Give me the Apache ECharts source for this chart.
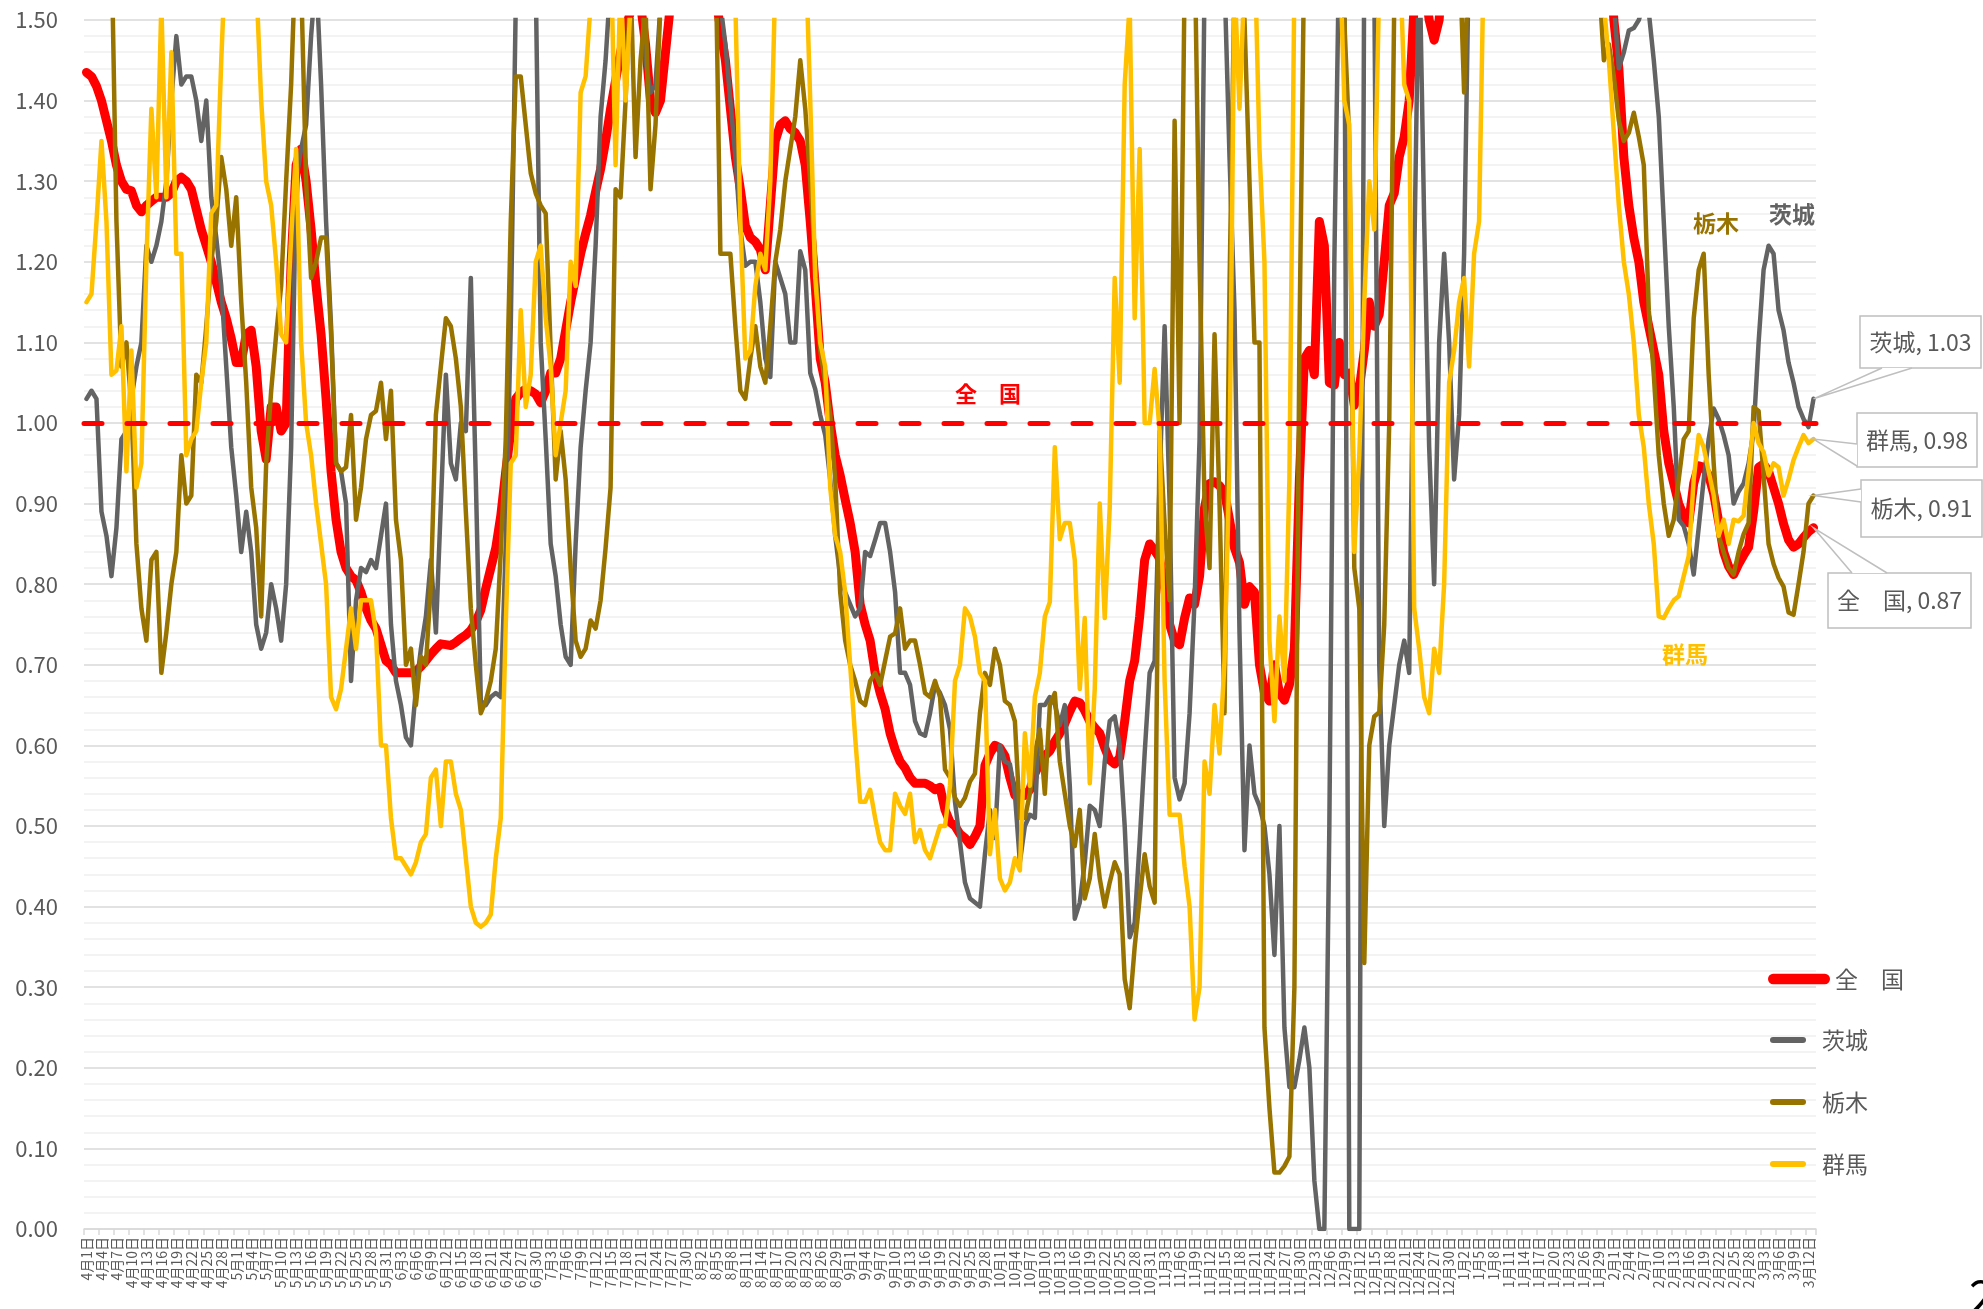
<!DOCTYPE html>
<html>
<head>
<meta charset="utf-8">
<title>実効再生産数</title>
<script src="https://cdn.jsdelivr.net/npm/echarts/dist/echarts.min.js"></script>
<style>
  html, body { margin: 0; padding: 0; background: #fff; }
  #chart { width: 1983px; height: 1309px; }
</style>
</head>
<body>
<div id="chart"></div>
<script>
// 2020/4/1 ～ 2021/3/13 の日次データ
const startDay = Date.UTC(2020, 3, 1);

const zenkoku = [
  1.435, 1.43, 1.418, 1.40, 1.375, 1.35, 1.32, 1.30, 1.29, 1.288,
  1.27, 1.262, 1.27, 1.275, 1.28, 1.28, 1.28, 1.285, 1.30, 1.305,
  1.30, 1.29, 1.265, 1.24, 1.22, 1.20, 1.175, 1.15, 1.13, 1.105,
  1.075, 1.075, 1.11, 1.115, 1.07, 0.99, 0.955, 1.02, 1.02, 0.99,
  1.00, 1.20, 1.32, 1.34, 1.30, 1.24, 1.17, 1.11, 1.03, 0.94,
  0.88, 0.84, 0.82, 0.81, 0.805, 0.79, 0.77, 0.755, 0.745, 0.725,
  0.705, 0.70, 0.69, 0.69, 0.69, 0.69, 0.692, 0.698, 0.705, 0.713,
  0.72, 0.726, 0.725, 0.724, 0.728, 0.733, 0.737, 0.743, 0.753, 0.768,
  0.795, 0.82, 0.845, 0.885, 0.94, 0.99, 1.03, 1.038, 1.042, 1.04,
  1.036, 1.025, 1.04, 1.062, 1.062, 1.08, 1.115, 1.15, 1.18, 1.21,
  1.235, 1.258, 1.287, 1.315, 1.35, 1.39, 1.425, 1.46, 1.49, 1.51,
  1.53, 1.52, 1.47, 1.40, 1.385, 1.40, 1.46, 1.52, 1.56, 1.6,
  1.6, 1.6, 1.6, 1.6, 1.6, 1.58, 1.53, 1.49, 1.45, 1.39,
  1.33, 1.29, 1.245, 1.23, 1.225, 1.215, 1.19, 1.27, 1.35, 1.37,
  1.375, 1.365, 1.36, 1.35, 1.32, 1.25, 1.17, 1.08, 1.05, 1.00,
  0.96, 0.935, 0.905, 0.876, 0.84, 0.775, 0.75, 0.73, 0.69, 0.665,
  0.645, 0.615, 0.595, 0.58, 0.572, 0.56, 0.553, 0.553, 0.553, 0.55,
  0.545, 0.548, 0.52, 0.505, 0.50, 0.49, 0.485, 0.477, 0.487, 0.50,
  0.575, 0.59, 0.60, 0.597, 0.587, 0.56, 0.538, 0.54, 0.538, 0.545,
  0.565, 0.578, 0.587, 0.593, 0.605, 0.615, 0.627, 0.642, 0.655, 0.653,
  0.643, 0.63, 0.622, 0.615, 0.597, 0.582, 0.577, 0.585, 0.63, 0.68,
  0.705, 0.76, 0.83, 0.85, 0.842, 0.832, 0.795, 0.75, 0.73, 0.725,
  0.758, 0.783, 0.775, 0.81, 0.895, 0.925, 0.927, 0.922, 0.914, 0.88,
  0.845, 0.827, 0.775, 0.797, 0.79, 0.70, 0.665, 0.655, 0.70, 0.665,
  0.656, 0.675, 0.72, 0.93, 1.08, 1.09, 1.06, 1.25, 1.22, 1.05,
  1.047, 1.10, 1.06, 1.062, 1.022, 1.042, 1.09, 1.15, 1.12, 1.135,
  1.20, 1.27, 1.285, 1.33, 1.355, 1.40, 1.52, 1.58, 1.55, 1.50,
  1.475, 1.50, 1.6, 1.6, 1.6, 1.6, 1.6, 1.6, 1.6, 1.6,
  1.6, 1.6, 1.6, 1.6, 1.6, 1.6, 1.6, 1.6, 1.6, 1.6,
  1.6, 1.6, 1.6, 1.6, 1.6, 1.6, 1.6, 1.6, 1.6, 1.6,
  1.6, 1.6, 1.6, 1.6, 1.6, 1.6, 1.50, 1.44, 1.33, 1.27,
  1.23, 1.20, 1.15, 1.12, 1.09, 1.06, 0.99, 0.95, 0.925, 0.90,
  0.885, 0.876, 0.925, 0.947, 0.945, 0.935, 0.912, 0.878, 0.84, 0.822,
  0.812, 0.825, 0.836, 0.846, 0.89, 0.945, 0.949, 0.94, 0.92, 0.90,
  0.875, 0.855, 0.846, 0.85, 0.858, 0.865, 0.87
];

const ibaraki = [
  1.03, 1.04, 1.03, 0.89, 0.86, 0.81, 0.87, 0.98, 0.99, 1.03,
  1.07, 1.10, 1.22, 1.20, 1.22, 1.25, 1.30, 1.40, 1.48, 1.42,
  1.43, 1.43, 1.40, 1.35, 1.40, 1.28, 1.23, 1.17, 1.07, 0.97,
  0.91, 0.84, 0.89, 0.84, 0.75, 0.72, 0.74, 0.80, 0.77, 0.73,
  0.80, 0.97, 1.30, 1.34, 1.37, 1.48, 1.56, 1.42, 1.25, 1.12,
  0.95, 0.94, 0.90, 0.68, 0.78, 0.82, 0.815, 0.83, 0.82, 0.86,
  0.90, 0.75, 0.68, 0.65, 0.61, 0.60, 0.67, 0.72, 0.76, 0.83,
  0.74, 0.90, 1.06, 0.95, 0.93, 1.00, 0.99, 1.18, 0.93, 0.655,
  0.65, 0.66, 0.665, 0.66, 0.85, 1.12, 1.52, 1.6, 1.6, 1.6,
  1.55, 1.10, 0.98, 0.85, 0.81, 0.75, 0.71, 0.70, 0.85, 0.97,
  1.04, 1.10, 1.22, 1.38, 1.45, 1.55, 1.6, 1.6, 1.6, 1.6,
  1.6, 1.55, 1.45, 1.41, 1.42, 1.52, 1.6, 1.6, 1.6, 1.6,
  1.6, 1.6, 1.6, 1.6, 1.6, 1.6, 1.6, 1.52, 1.47, 1.40,
  1.33, 1.24, 1.195, 1.20, 1.20, 1.15, 1.08, 1.057, 1.20, 1.18,
  1.16, 1.10, 1.10, 1.213, 1.19, 1.062, 1.042, 1.01, 0.985, 0.93,
  0.86, 0.81, 0.79, 0.775, 0.76, 0.77, 0.84, 0.835, 0.855, 0.876,
  0.876, 0.84, 0.79, 0.69, 0.69, 0.675, 0.63, 0.615, 0.612, 0.64,
  0.675, 0.665, 0.65, 0.62, 0.53, 0.48, 0.43, 0.41, 0.405, 0.40,
  0.465, 0.52, 0.485, 0.60, 0.58, 0.577, 0.54, 0.455, 0.50, 0.514,
  0.51, 0.65, 0.65, 0.66, 0.651, 0.625, 0.65, 0.55, 0.385, 0.405,
  0.455, 0.525, 0.52, 0.50, 0.58, 0.63, 0.636, 0.60, 0.50, 0.362,
  0.38, 0.48, 0.59, 0.69, 0.705, 0.93, 1.12, 0.90, 0.56, 0.533,
  0.553, 0.64, 0.78, 0.98, 1.55, 1.6, 1.6, 1.6, 1.55, 1.33,
  1.14, 0.74, 0.47, 0.60, 0.54, 0.525, 0.50, 0.44, 0.34, 0.50,
  0.25, 0.176, 0.176, 0.21, 0.25, 0.20, 0.06, 0, 0, 0.50,
  1.20, 1.6, 1.6, 0, 0, 0, 1.6, 1.6, 1.55, 0.70,
  0.50, 0.60, 0.65, 0.70, 0.73, 0.69, 1.20, 1.6, 1.25, 0.97,
  0.80, 1.10, 1.21, 1.10, 0.93, 1.01, 1.21, 1.6, 1.6, 1.6,
  1.6, 1.6, 1.6, 1.6, 1.6, 1.6, 1.6, 1.6, 1.6, 1.6,
  1.6, 1.6, 1.6, 1.6, 1.6, 1.6, 1.6, 1.6, 1.6, 1.6,
  1.6, 1.6, 1.6, 1.6, 1.6, 1.6, 1.52, 1.44, 1.46, 1.487,
  1.49, 1.50, 1.52, 1.51, 1.45, 1.38, 1.25, 1.12, 1.02, 0.88,
  0.872, 0.85, 0.812, 0.87, 0.93, 0.98, 1.018, 1.005, 0.985, 0.96,
  0.90, 0.915, 0.925, 0.95, 0.99, 1.10, 1.19, 1.22, 1.21, 1.14,
  1.115, 1.075, 1.05, 1.02, 1.005, 0.995, 1.03
];

const tochigi = [
  1.6, 1.6, 1.6, 1.6, 1.6, 1.6, 1.25, 1.07, 1.10, 1.02,
  0.85, 0.77, 0.73, 0.83, 0.84, 0.69, 0.74, 0.80, 0.84, 0.96,
  0.90, 0.91, 1.06, 1.05, 1.12, 1.20, 1.25, 1.33, 1.29, 1.22,
  1.28, 1.15, 1.05, 0.92, 0.87, 0.76, 0.95, 1.04, 1.11, 1.17,
  1.30, 1.42, 1.6, 1.55, 1.30, 1.18, 1.20, 1.23, 1.23, 1.11,
  0.95, 0.94, 0.945, 1.01, 0.88, 0.92, 0.98, 1.01, 1.015, 1.05,
  0.98, 1.04, 0.88, 0.83, 0.70, 0.72, 0.65, 0.71, 0.70, 0.80,
  1.01, 1.07, 1.13, 1.12, 1.08, 1.02, 0.89, 0.77, 0.70, 0.64,
  0.655, 0.68, 0.72, 0.84, 0.98, 1.25, 1.43, 1.43, 1.37, 1.31,
  1.285, 1.27, 1.26, 1.09, 0.93, 0.99, 0.93, 0.82, 0.73, 0.71,
  0.72, 0.755, 0.745, 0.78, 0.845, 0.92, 1.29, 1.28, 1.40, 1.55,
  1.33, 1.45, 1.52, 1.29, 1.37, 1.52, 1.6, 1.6, 1.6, 1.6,
  1.6, 1.6, 1.6, 1.6, 1.6, 1.6, 1.6, 1.21, 1.21, 1.21,
  1.12, 1.04, 1.03, 1.08, 1.12, 1.07, 1.05, 1.12, 1.20, 1.24,
  1.30, 1.34, 1.38, 1.45, 1.39, 1.30, 1.20, 1.09, 1.05, 1.01,
  0.93, 0.79, 0.73, 0.70, 0.68, 0.655, 0.65, 0.68, 0.69, 0.675,
  0.705, 0.735, 0.739, 0.77, 0.72, 0.73, 0.73, 0.70, 0.665, 0.66,
  0.68, 0.66, 0.57, 0.56, 0.535, 0.525, 0.535, 0.555, 0.565, 0.64,
  0.69, 0.675, 0.72, 0.70, 0.655, 0.65, 0.63, 0.51, 0.51, 0.54,
  0.59, 0.62, 0.54, 0.65, 0.665, 0.58, 0.54, 0.50, 0.475, 0.52,
  0.41, 0.435, 0.49, 0.435, 0.40, 0.43, 0.455, 0.44, 0.31, 0.274,
  0.35, 0.41, 0.465, 0.425, 0.405, 0.99, 0.875, 0.78, 1.375, 1.00,
  1.55, 1.6, 1.6, 1.20, 0.90, 0.82, 1.11, 0.90, 0.64, 1.17,
  1.55, 1.6, 1.50, 1.30, 1.10, 1.10, 0.25, 0.15, 0.07, 0.07,
  0.078, 0.09, 0.30, 1.10, 1.6, 1.6, 1.6, 1.6, 1.6, 1.6,
  1.6, 1.6, 1.50, 1.35, 0.82, 0.77, 0.33, 0.60, 0.636, 0.641,
  0.75, 1.00, 1.52, 1.6, 1.6, 1.6, 1.6, 1.6, 1.6, 1.6,
  1.6, 1.6, 1.6, 1.6, 1.6, 1.6, 1.41, 1.6, 1.6, 1.6,
  1.6, 1.6, 1.6, 1.6, 1.6, 1.6, 1.6, 1.6, 1.6, 1.6,
  1.6, 1.6, 1.6, 1.6, 1.6, 1.6, 1.6, 1.6, 1.6, 1.6,
  1.6, 1.6, 1.6, 1.55, 1.45, 1.47, 1.43, 1.375, 1.35, 1.36,
  1.385, 1.355, 1.32, 1.14, 1.06, 0.96, 0.90, 0.86, 0.88, 0.93,
  0.98, 0.99, 1.13, 1.19, 1.21, 1.06, 0.95, 0.86, 0.84, 0.82,
  0.812, 0.84, 0.862, 0.876, 1.02, 1.015, 0.935, 0.85, 0.825, 0.808,
  0.797, 0.765, 0.762, 0.80, 0.84, 0.90, 0.91
];

const gunma = [
  1.15, 1.16, 1.25, 1.35, 1.25, 1.06, 1.065, 1.12, 0.94, 1.09,
  0.92, 0.95, 1.20, 1.39, 1.28, 1.52, 1.28, 1.46, 1.21, 1.21,
  0.96, 0.98, 0.99, 1.05, 1.10, 1.26, 1.27, 1.45, 1.6, 1.6,
  1.6, 1.6, 1.6, 1.6, 1.55, 1.40, 1.30, 1.27, 1.20, 1.11,
  1.10, 1.23, 1.34, 1.10, 1.00, 0.96, 0.90, 0.85, 0.80, 0.66,
  0.645, 0.67, 0.72, 0.77, 0.72, 0.78, 0.78, 0.78, 0.74, 0.60,
  0.60, 0.51, 0.46, 0.46, 0.45, 0.44, 0.455, 0.48, 0.49, 0.56,
  0.57, 0.50, 0.58, 0.58, 0.54, 0.52, 0.46, 0.40, 0.38, 0.375,
  0.38, 0.39, 0.46, 0.51, 0.75, 0.95, 0.96, 1.14, 1.02, 1.06,
  1.20, 1.22, 1.13, 1.07, 0.96, 1.00, 1.04, 1.20, 1.17, 1.41,
  1.43, 1.52, 1.6, 1.6, 1.6, 1.6, 1.32, 1.55, 1.40, 1.52,
  1.6, 1.6, 1.6, 1.6, 1.6, 1.6, 1.6, 1.6, 1.6, 1.6,
  1.6, 1.6, 1.6, 1.6, 1.6, 1.6, 1.6, 1.6, 1.6, 1.6,
  1.52, 1.25, 1.08, 1.09, 1.17, 1.21, 1.19, 1.30, 1.55, 1.6,
  1.6, 1.6, 1.6, 1.6, 1.6, 1.40, 1.18, 1.10, 1.07, 0.92,
  0.86, 0.84, 0.79, 0.70, 0.61, 0.53, 0.53, 0.545, 0.51, 0.48,
  0.47, 0.47, 0.54, 0.525, 0.515, 0.54, 0.48, 0.495, 0.47, 0.46,
  0.48, 0.50, 0.50, 0.55, 0.68, 0.70, 0.77, 0.76, 0.735, 0.69,
  0.68, 0.465, 0.52, 0.435, 0.42, 0.43, 0.46, 0.445, 0.615, 0.55,
  0.66, 0.69, 0.76, 0.778, 0.97, 0.856, 0.876, 0.876, 0.83, 0.67,
  0.758, 0.553, 0.67, 0.90, 0.758, 0.895, 1.18, 1.05, 1.42, 1.52,
  1.13, 1.34, 1.00, 1.00, 1.067, 0.99, 0.68, 0.514, 0.514, 0.514,
  0.45, 0.40, 0.26, 0.30, 0.58, 0.54, 0.65, 0.59, 0.705, 0.95,
  1.55, 1.39, 1.55, 1.55, 1.6, 1.34, 1.20, 0.73, 0.63, 0.76,
  0.68, 0.93, 1.55, 1.6, 1.6, 1.6, 1.6, 1.6, 1.6, 1.6,
  1.6, 1.6, 1.40, 1.37, 0.84, 0.96, 1.15, 1.30, 1.24, 1.55,
  1.6, 1.6, 1.6, 1.6, 1.42, 1.40, 0.77, 0.72, 0.66, 0.64,
  0.72, 0.69, 0.80, 1.05, 1.09, 1.15, 1.18, 1.07, 1.21, 1.25,
  1.6, 1.6, 1.6, 1.6, 1.6, 1.6, 1.6, 1.6, 1.6, 1.6,
  1.6, 1.6, 1.6, 1.6, 1.6, 1.6, 1.6, 1.6, 1.6, 1.6,
  1.6, 1.6, 1.6, 1.6, 1.52, 1.45, 1.36, 1.27, 1.20, 1.16,
  1.10, 1.01, 0.97, 0.90, 0.85, 0.76, 0.758, 0.77, 0.78, 0.785,
  0.81, 0.835, 0.93, 0.985, 0.97, 0.94, 0.91, 0.86, 0.88, 0.85,
  0.88, 0.878, 0.885, 0.94, 1.00, 0.975, 0.964, 0.935, 0.95, 0.945,
  0.91, 0.93, 0.954, 0.97, 0.985, 0.975, 0.98
];

const seriesNames = ['全　国', '茨城', '栃木', '群馬'];
const seriesData = [zenkoku, ibaraki, tochigi, gunma];
const referenceLevel = 1.0;

// 日付ラベル（4月1日 ...）
const dateLabels = [];
for (let i = 0; i < zenkoku.length; i++) {
  const d = new Date(startDay + i * 86400000);
  dateLabels.push((d.getUTCMonth() + 1) + '月' + d.getUTCDate() + '日');
}
seriesData.forEach(function (arr, k) {
  if (arr.length !== dateLabels.length) {
    throw new Error(seriesNames[k] + ' length ' + arr.length + ' != ' + dateLabels.length);
  }
});

const FONT = '"Noto Sans CJK JP", "Noto Sans", sans-serif';
const colors = ['#FF0000', '#636363', '#997300', '#FFC000'];
const widths = [9, 4.5, 4.5, 4.5];
// 凡例の線（両端が丸い）
const capsule = 'path://M0,5 A5,5 0 0 1 5,0 L55,0 A5,5 0 0 1 55,10 L5,10 A5,5 0 0 1 0,5 Z';

const chart = echarts.init(document.getElementById('chart'));

const series = seriesData.map(function (arr, k) {
  const s = {
    name: seriesNames[k],
    type: 'line',
    data: arr,
    symbol: 'none',
    showSymbol: false,
    clip: true,
    silent: true,
    color: colors[k],
    itemStyle: { color: colors[k] },
    lineStyle: { color: colors[k], width: widths[k], cap: 'round', join: 'round' },
    emphasis: { disabled: true }
  };
  if (k === 0) {
    s.markLine = {
      silent: true,
      symbol: 'none',
      z: 10,
      data: [{ yAxis: referenceLevel }],
      lineStyle: { color: '#FF0000', width: 5, type: [18, 25], cap: 'round' },
      label: {
        show: true,
        position: 'insideMiddleTop',
        formatter: '全　国',
        color: '#FF0000',
        fontWeight: 'bold',
        fontSize: 22,
        fontFamily: FONT,
        distance: 18,
        padding: [0, 0, 0, 76]
      },
      emphasis: { disabled: true }
    };
  }
  return s;
});

const legendText = { color: '#595959', fontSize: 23, fontFamily: FONT, lineHeight: 28 };

const option = {
  animation: false,
  backgroundColor: '#ffffff',
  textStyle: { fontFamily: FONT },
  grid: { left: 84, right: 167, top: 20, bottom: 80 },
  legend: [
    {
      orient: 'vertical',
      left: 1768,
      top: 965,
      padding: 0,
      itemWidth: 62,
      itemHeight: 11,
      icon: capsule,
      data: [seriesNames[0]],
      textStyle: legendText
    },
    {
      orient: 'vertical',
      left: 1770,
      top: 1026,
      padding: 0,
      itemWidth: 58,
      itemHeight: 6,
      itemGap: 34,
      icon: capsule,
      data: seriesNames.slice(1),
      textStyle: legendText
    }
  ],
  xAxis: {
    type: 'category',
    data: dateLabels,
    boundaryGap: true,
    axisLine: { lineStyle: { color: '#d9d9d9', width: 1.5 } },
    axisTick: { show: true, interval: 2, length: 6, lineStyle: { color: '#d9d9d9', width: 1.5 } },
    axisLabel: { interval: 2, rotate: 90, fontSize: 14, color: '#595959', margin: 8, fontFamily: FONT },
    splitLine: { show: false }
  },
  yAxis: {
    type: 'value',
    min: 0,
    max: 1.5,
    interval: 0.1,
    axisLine: { show: false },
    axisTick: { show: false },
    axisLabel: {
      fontSize: 22,
      color: '#595959',
      margin: 26,
      fontFamily: FONT,
      formatter: function (v) { return v.toFixed(2); }
    },
    splitLine: { lineStyle: { color: '#d9d9d9', width: 1.5 } },
    minorTick: { show: false, splitNumber: 5 },
    minorSplitLine: { show: true, lineStyle: { color: '#efefef', width: 1.5 } }
  },
  series: series
};

chart.setOption(option);

// 吹き出し（最終日の値）
const callouts = [
  { k: 1, box: [1860, 316, 121, 52], base: [[1882, 368], [1912, 368]] },
  { k: 3, box: [1857, 413, 120, 54], base: [[1857, 444], [1857, 466]] },
  { k: 2, box: [1861, 480, 121, 57], base: [[1861, 489], [1861, 502]] },
  { k: 0, box: [1828, 573, 143, 55], base: [[1852, 573], [1887, 573]] }
];
const lastIndex = dateLabels.length - 1;
const graphics = [];
callouts.forEach(function (c) {
  const v = seriesData[c.k][lastIndex];
  const p = chart.convertToPixel({ seriesIndex: c.k }, [lastIndex, v]);
  const b = c.box;
  graphics.push({
    type: 'rect', z: 100,
    shape: { x: b[0], y: b[1], width: b[2], height: b[3] },
    style: { fill: '#ffffff', stroke: '#bfbfbf', lineWidth: 1.5 }
  });
  graphics.push({
    type: 'polygon', z: 101,
    shape: { points: [p, c.base[0], c.base[1]] },
    style: { fill: '#ffffff', stroke: null }
  });
  graphics.push({
    type: 'polyline', z: 102,
    shape: { points: [c.base[0], p, c.base[1]] },
    style: { stroke: '#bfbfbf', lineWidth: 1.5, fill: null }
  });
  graphics.push({
    type: 'text', z: 103,
    x: b[0] + b[2] / 2, y: b[1] + b[3] / 2,
    style: {
      text: seriesNames[c.k] + ', ' + v.toFixed(2),
      fill: '#595959', fontSize: 23, fontFamily: FONT,
      align: 'center', verticalAlign: 'middle'
    }
  });
});

// 系列名の注記
const notes = [
  { text: '栃木', x: 1716, y: 223, color: '#997300' },
  { text: '茨城', x: 1792, y: 214, color: '#636363' },
  { text: '群馬', x: 1685, y: 654, color: '#FFC000' }
];
notes.forEach(function (n) {
  graphics.push({
    type: 'text', z: 103, x: n.x, y: n.y,
    style: {
      text: n.text, fill: n.color, fontSize: 23, fontWeight: 'bold', fontFamily: FONT,
      align: 'center', verticalAlign: 'middle'
    }
  });
});

// ページ番号
graphics.push({
  type: 'text', z: 103, x: 1969, y: 1274,
  style: { text: '2', fill: '#000000', fontSize: 46, fontFamily: FONT }
});

chart.setOption({ graphic: graphics });
</script>
</body>
</html>
